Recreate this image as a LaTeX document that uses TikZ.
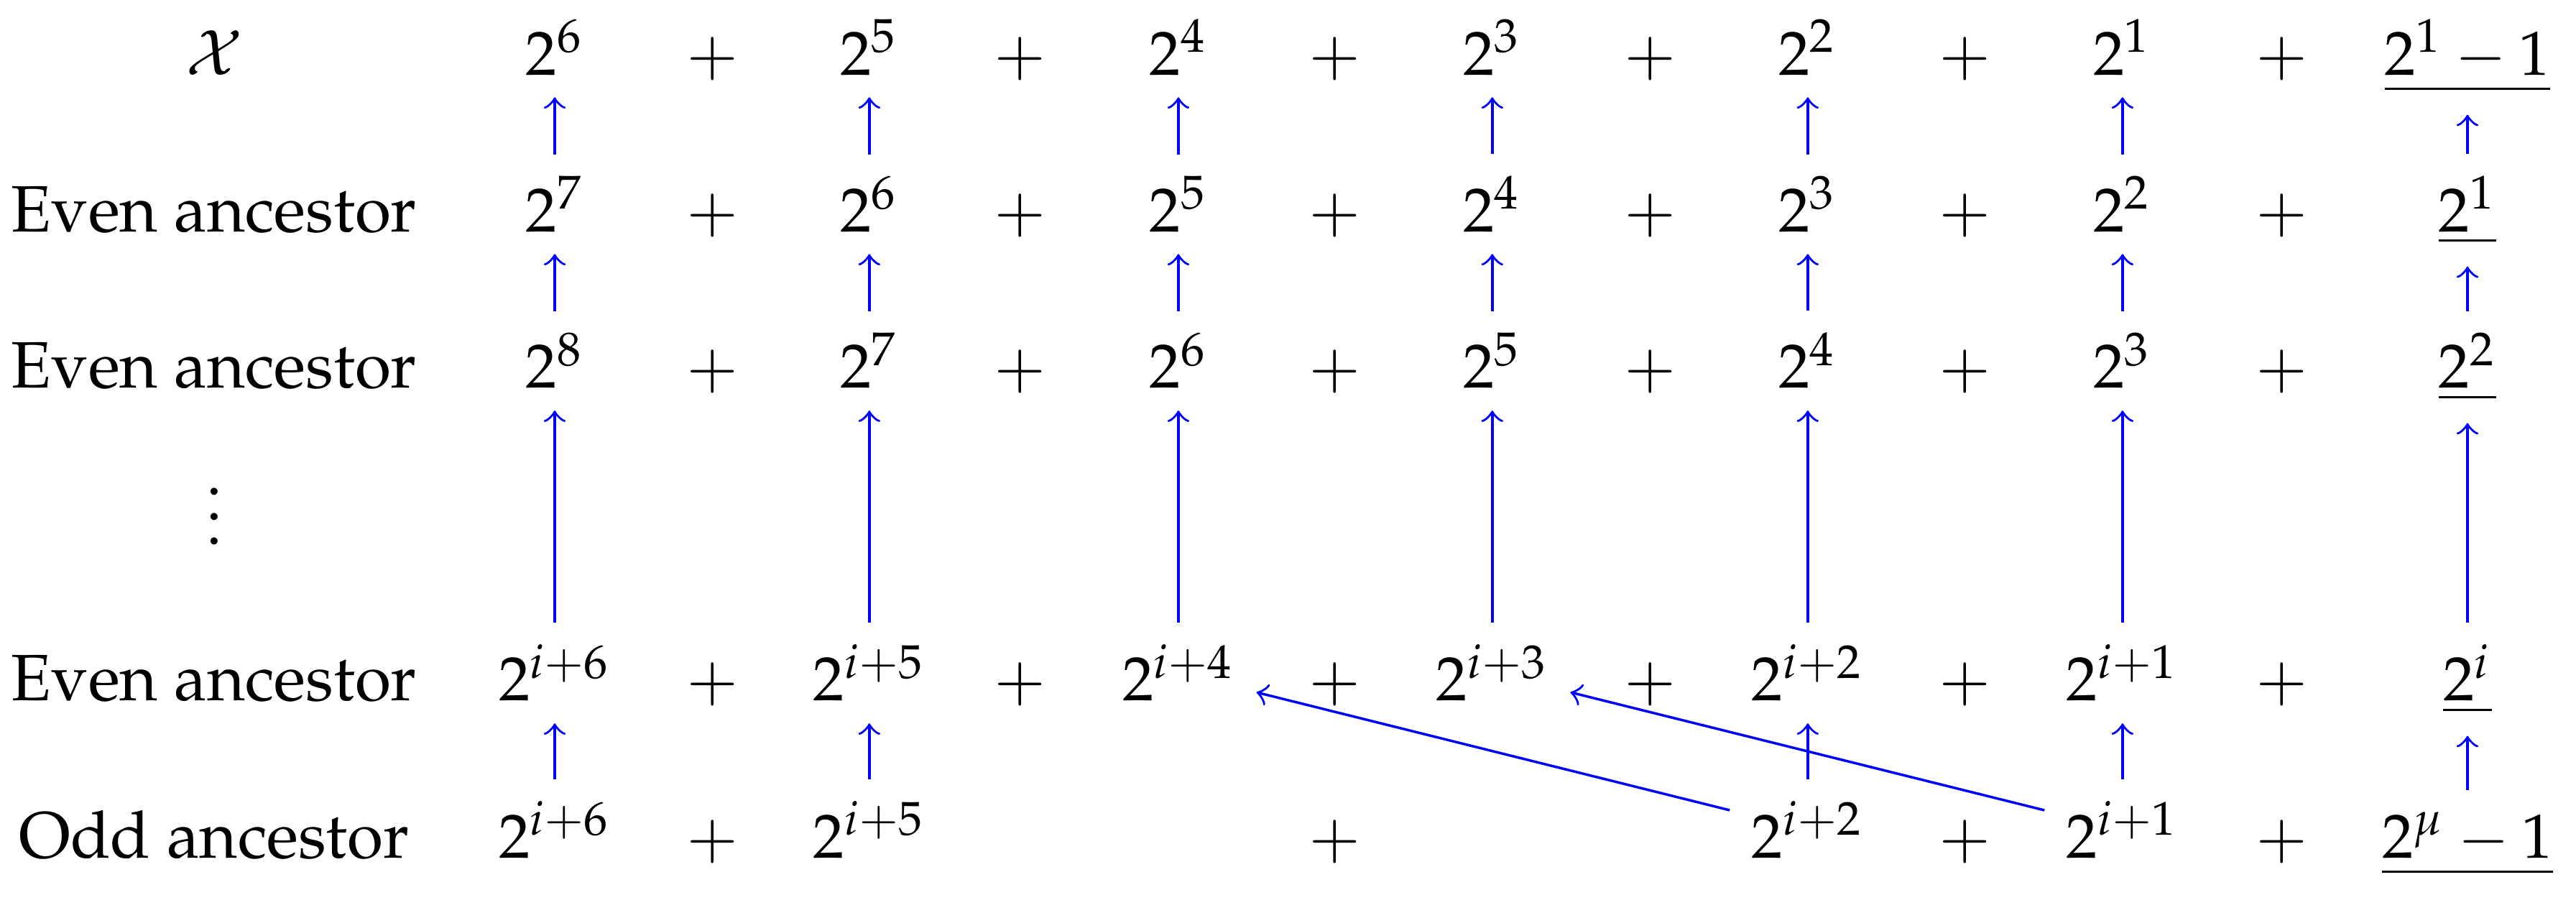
\documentclass[tikz,border=0pt]{standalone}
\usepackage[T1]{fontenc}
\usepackage{mathpazo}
\begin{document}
\begin{tikzpicture}
        \tikzstyle{term} = [anchor=base,text=black]
        \tikzstyle{rowname} = [term,font=\fontsize{10.5pt}{12pt}\selectfont]
        \tikzstyle{line} = [->,draw=blue,line width=.4]
        \useasboundingbox (0,0) rectangle (14.502,5.109);
        % row X
        \node[term] (xlab) at (1.205,4.688) {$\mathcal{X}$};
        \node[term] (x1) at (3.123,4.688) {$2^6$};
        \node[term] (xp1) at (4.013,4.688) {$+$};
        \node[term] (x2) at (4.894,4.688) {$2^5$};
        \node[term] (xp2) at (5.744,4.688) {$+$};
        \node[term] (x3) at (6.634,4.688) {$2^4$};
        \node[term] (xp3) at (7.516,4.688) {$+$};
        \node[term] (x4) at (8.401,4.688) {$2^3$};
        \node[term] (xp4) at (9.291,4.688) {$+$};
        \node[term] (x5) at (10.177,4.688) {$2^2$};
        \node[term] (xp5) at (11.063,4.688) {$+$};
        \node[term] (x6) at (11.949,4.688) {$2^1$};
        \node[term] (xp6) at (12.847,4.688) {$+$};
        \node[term] (x7) at (13.891,4.688) {$\underline{2^1-1}$};
        % first even ancestor
        \node[rowname] (ealab) at (1.205,3.806) {Even ancestor};
        \node[term] (ea1) at (3.123,3.806) {$2^7$};
        \node[term] (eap1) at (4.013,3.806) {$+$};
        \node[term] (ea2) at (4.894,3.806) {$2^6$};
        \node[term] (eap2) at (5.744,3.806) {$+$};
        \node[term] (ea3) at (6.634,3.806) {$2^5$};
        \node[term] (eap3) at (7.516,3.806) {$+$};
        \node[term] (ea4) at (8.401,3.806) {$2^4$};
        \node[term] (eap4) at (9.291,3.806) {$+$};
        \node[term] (ea5) at (10.177,3.806) {$2^3$};
        \node[term] (eap5) at (11.063,3.806) {$+$};
        \node[term] (ea6) at (11.949,3.806) {$2^2$};
        \node[term] (eap6) at (12.847,3.806) {$+$};
        \node[term] (ea7) at (13.891,3.806) {$\underline{2^1}$};
        % second even ancestor
        \node[rowname] (eblab) at (1.205,2.925) {Even ancestor};
        \node[term] (eb1) at (3.123,2.925) {$2^8$};
        \node[term] (ebp1) at (4.013,2.925) {$+$};
        \node[term] (eb2) at (4.894,2.925) {$2^7$};
        \node[term] (ebp2) at (5.744,2.925) {$+$};
        \node[term] (eb3) at (6.634,2.925) {$2^6$};
        \node[term] (ebp3) at (7.516,2.925) {$+$};
        \node[term] (eb4) at (8.401,2.925) {$2^5$};
        \node[term] (ebp4) at (9.291,2.925) {$+$};
        \node[term] (eb5) at (10.177,2.925) {$2^4$};
        \node[term] (ebp5) at (11.063,2.925) {$+$};
        \node[term] (eb6) at (11.949,2.925) {$2^3$};
        \node[term] (ebp6) at (12.847,2.925) {$+$};
        \node[term] (eb7) at (13.891,2.925) {$\underline{2^2}$};
        \node[term] (dots) at (1.205,2.043) {$\vdots$};
        % i-th even ancestor
        \node[rowname] (eilab) at (1.205,1.165) {Even ancestor};
        \node[term] (ei1) at (3.123,1.165) {$2^{i+6}$};
        \node[term] (eip1) at (4.013,1.165) {$+$};
        \node[term] (ei2) at (4.894,1.165) {$2^{i+5}$};
        \node[term] (eip2) at (5.744,1.165) {$+$};
        \node[term] (ei3) at (6.634,1.165) {$2^{i+4}$};
        \node[term] (eip3) at (7.516,1.165) {$+$};
        \node[term] (ei4) at (8.401,1.165) {$2^{i+3}$};
        \node[term] (eip4) at (9.291,1.165) {$+$};
        \node[term] (ei5) at (10.177,1.165) {$2^{i+2}$};
        \node[term] (eip5) at (11.063,1.165) {$+$};
        \node[term] (ei6) at (11.949,1.165) {$2^{i+1}$};
        \node[term] (eip6) at (12.847,1.165) {$+$};
        \node[term] (ei7) at (13.891,1.165) {$\underline{2^i}$};
        % odd ancestor
        \node[rowname] (odlab) at (1.205,0.283) {Odd ancestor};
        \node[term] (od1) at (3.123,0.283) {$2^{i+6}$};
        \node[term] (odp1) at (4.013,0.283) {$+$};
        \node[term] (od2) at (4.894,0.283) {$2^{i+5}$};
        \node[term] (odp3) at (7.516,0.283) {$+$};
        \node[term] (od5) at (10.177,0.283) {$2^{i+2}$};
        \node[term] (odp5) at (11.063,0.283) {$+$};
        \node[term] (od6) at (11.949,0.283) {$2^{i+1}$};
        \node[term] (odp6) at (12.847,0.283) {$+$};
        \node[term] (od7) at (13.891,0.283) {$\underline{2^\mu-1}$};
        % arrows
        \draw[line] (ea1) to (x1);
        \draw[line] (ea2) to (x2);
        \draw[line] (ea3) to (x3);
        \draw[line] (ea4) to (x4);
        \draw[line] (ea5) to (x5);
        \draw[line] (ea6) to (x6);
        \draw[line] (ea7) to (x7);
        \draw[line] (eb1) to (ea1);
        \draw[line] (eb2) to (ea2);
        \draw[line] (eb3) to (ea3);
        \draw[line] (eb4) to (ea4);
        \draw[line] (eb5) to (ea5);
        \draw[line] (eb6) to (ea6);
        \draw[line] (eb7) to (ea7);
        \draw[line] (ei1) to (eb1);
        \draw[line] (ei2) to (eb2);
        \draw[line] (ei3) to (eb3);
        \draw[line] (ei4) to (eb4);
        \draw[line] (ei5) to (eb5);
        \draw[line] (ei6) to (eb6);
        \draw[line] (ei7) to (eb7);
        \draw[line] (od1) to (ei1);
        \draw[line] (od2) to (ei2);
        \draw[line] (od5) to (ei5);
        \draw[line] (od6) to (ei6);
        \draw[line] (od7) to (ei7);
        \draw[line] (od5) to (ei3);
        \draw[line] (od6) to (ei4);
    \end{tikzpicture}
\end{document}
